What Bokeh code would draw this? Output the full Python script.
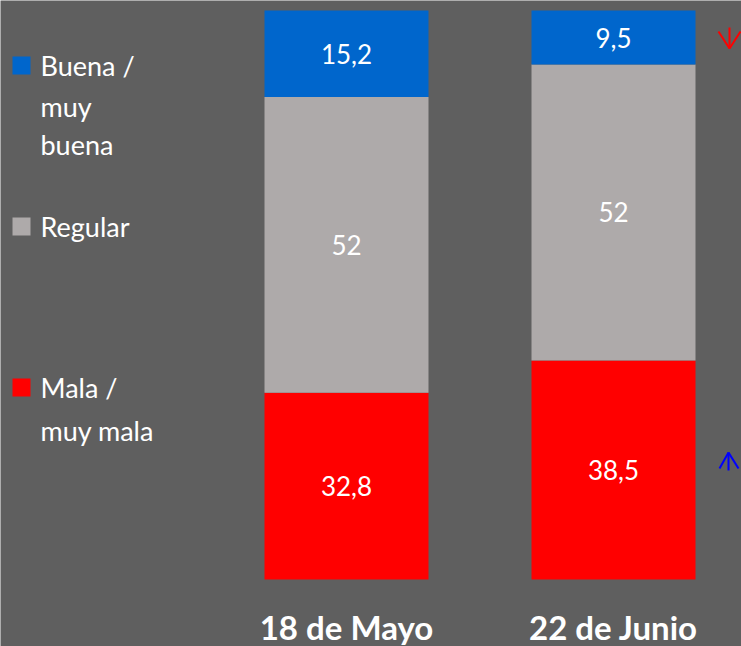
from bokeh.plotting import figure
from bokeh.models import Range1d
from bokeh.core.properties import value
from bokeh.embed import file_html
from bokeh.resources import INLINE

# ---- data ----
categories = ["18 de Mayo", "22 de Junio"]
mala = [32.8, 38.5]
regular = [52, 52]
buena = [15.2, 9.5]
series_names = ["Buena /\nmuy\nbuena", "Regular", "Mala /\nmuy mala"]

BG = "#5f5f5f"
C_BUENA = "#0066cc"
C_REG = "#aeaaaa"
C_MALA = "#ff0000"
FONT = "Lato"

W, H = 741, 646
# layout: bar centers at px 346 and 613, y=0 -> px 579, y=100 -> px 10
sx = 267.0
x0 = 1 - 346 / sx
x1 = x0 + W / sx
sy = (579 - 10) / 100.0
y1 = 100 + 10 / sy
y0 = -(H - 579) / sy


def px(x, y):
    """convert page pixel coords to data coords"""
    return x0 + x / sx, y1 - y / sy


p = figure(width=W, height=H, output_backend="svg", toolbar_location=None,
           x_range=Range1d(x0, x1), y_range=Range1d(y0, y1), min_border=0)
p.axis.visible = False
p.grid.visible = False
p.outline_line_color = None
p.background_fill_color = BG
p.border_fill_color = BG

xs = [1, 2]
bw = 164 / sx
b_mala = [0, 0]
t_mala = mala
t_reg = [m + r for m, r in zip(mala, regular)]
t_buena = [t + b for t, b in zip(t_reg, buena)]

p.vbar(x=xs, bottom=b_mala, top=t_mala, width=bw, fill_color=C_MALA, line_color=None)
p.vbar(x=xs, bottom=t_mala, top=t_reg, width=bw, fill_color=C_REG, line_color=None)
p.vbar(x=xs, bottom=t_reg, top=t_buena, width=bw, fill_color=C_BUENA, line_color=None)


def fmt(v):
    return ("%g" % v).replace(".", ",")


lab_x, lab_y, lab_t = [], [], []
for i in range(2):
    for lo, hi, v in [(0, t_mala[i], mala[i]), (t_mala[i], t_reg[i], regular[i]),
                      (t_reg[i], t_buena[i], buena[i])]:
        lab_x.append(xs[i])
        lab_y.append((lo + hi) / 2)
        lab_t.append(fmt(v))
p.text(x=lab_x, y=lab_y, text=lab_t, text_color="white", text_font=value(FONT),
       text_font_size="26px", text_align="center", text_baseline="middle")

# category labels
cy = px(0, 626)[1]
p.text(x=xs, y=[cy, cy], text=categories, text_color="white", text_font=value(FONT),
       text_font_size="33px", text_font_style="bold", text_align="center",
       text_baseline="middle")

# legend squares
sq_centers = [65, 226, 387]
sq_colors = [C_BUENA, C_REG, C_MALA]
for c, col in zip(sq_centers, sq_colors):
    cx, cyy = px(21, c)
    p.rect(x=[cx], y=[cyy], width=18 / sx, height=18 / sy, fill_color=col, line_color=None)

# legend text lines (vertical centres)
leg_lines = [
    (series_names[0].split("\n"), [65, 106, 144]),
    (series_names[1].split("\n"), [226]),
    (series_names[2].split("\n"), [387, 430]),
]
lx, ly, lt = [], [], []
for lines, cents in leg_lines:
    for t, c in zip(lines, cents):
        xx, yy = px(40, c)
        lx.append(xx)
        ly.append(yy)
        lt.append(t)
p.text(x=lx, y=ly, text=lt, text_color="white", text_font=value(FONT),
       text_font_size="27px", text_align="left", text_baseline="middle")


# arrows
def conv(pts):
    a = [px(x, y) for x, y in pts]
    return [q[0] for q in a], [q[1] for q in a]


red_arrow = [[(729, 27), (729, 48)], [(718, 31), (729, 48)], [(740, 31), (729, 48)]]
blue_arrow = [[(728, 452), (728, 470)], [(719, 468), (728, 452)], [(738, 468), (728, 452)]]
for arrow, col in [(red_arrow, C_MALA), (blue_arrow, "#0000ff")]:
    mx, my = [], []
    for seg in arrow:
        a, b = conv(seg)
        mx.append(a)
        my.append(b)
    p.multi_line(xs=mx, ys=my, line_color=col, line_width=2)

html = file_html(p, INLINE)
html = html.replace("<body>", '<body style="margin:0;background:%s;">' % BG, 1)
open("out.html", "w").write(html)
